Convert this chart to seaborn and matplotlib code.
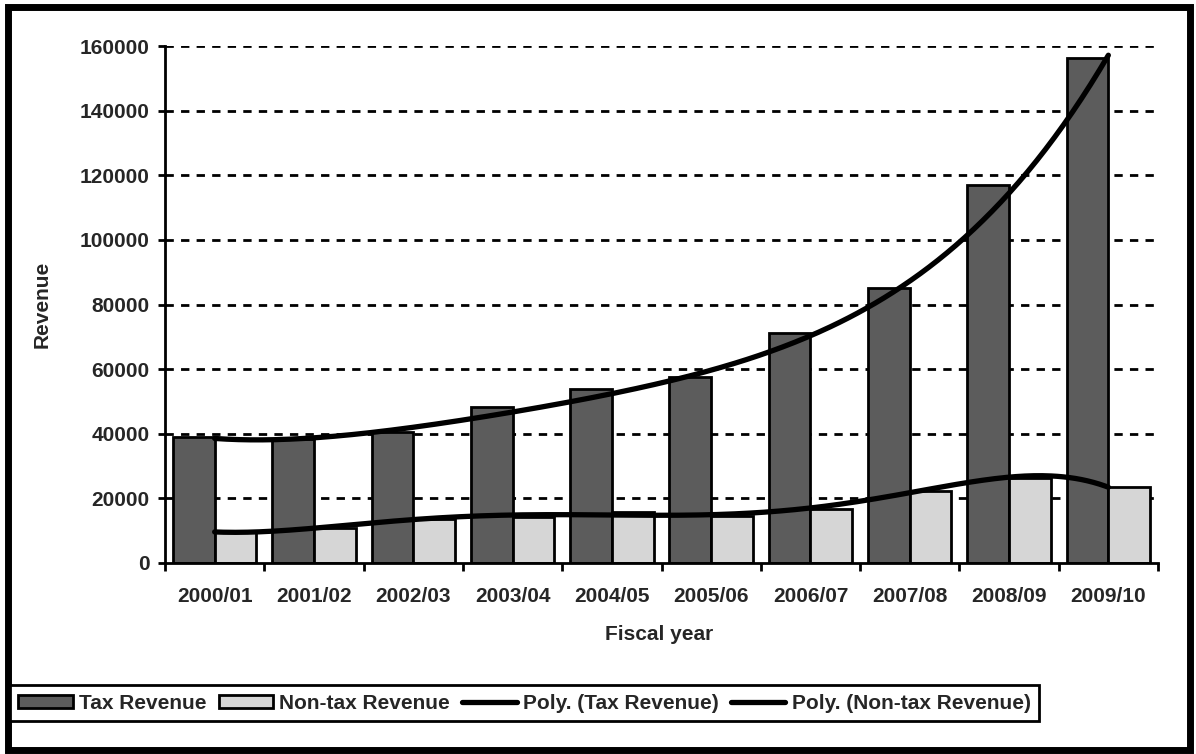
import numpy as np
import pandas as pd
import matplotlib.pyplot as plt
import seaborn as sns
from matplotlib.patches import Patch, Rectangle
from matplotlib.lines import Line2D

# data
years = ['2000/01', '2001/02', '2002/03', '2003/04', '2004/05',
         '2005/06', '2006/07', '2007/08', '2008/09', '2009/10']
tax_revenue = [38900, 38400, 40600, 48300, 53900, 57600, 71200, 85100, 117000, 156300]
nontax_revenue = [9600, 10800, 13600, 14200, 15800, 14500, 16700, 22300, 26300, 23500]

df = pd.DataFrame({
    'year': years * 2,
    'revenue': tax_revenue + nontax_revenue,
    'type': ['Tax Revenue'] * len(years) + ['Non-tax Revenue'] * len(years),
})

sns.set_style('white')
plt.rcParams['font.family'] = ['Liberation Sans', 'DejaVu Sans']
plt.rcParams['font.weight'] = 'bold'
plt.rcParams['axes.labelweight'] = 'bold'

colores = {'Tax Revenue': '#5c5c5c', 'Non-tax Revenue': '#d6d6d6'}

fig = plt.figure(figsize=(11.96, 7.54), dpi=100)
ax = fig.add_axes([165 / 1196, 1 - 563 / 754, (1158 - 165) / 1196, (563 - 46) / 754])

# gridlines (dashed, behind bars)
for v in range(20000, 160001, 20000):
    ax.axhline(v, color='black', lw=2, ls=(0, (3, 2.6)), zorder=0.5)

sns.barplot(data=df, x='year', y='revenue', hue='type', palette=colores,
            width=0.84, edgecolor='black', linewidth=2, saturation=1,
            errorbar=None, legend=False, ax=ax, zorder=1)

# polynomial trendlines (like Excel "Poly." trendline)
x = np.arange(len(years))
xs = np.linspace(0, len(years) - 1, 300)
coef_tax = np.polyfit(x, tax_revenue, 4)
coef_non = np.polyfit(x, nontax_revenue, 6)
sns.lineplot(x=xs, y=np.polyval(coef_tax, xs), color='black', lw=3.8, ax=ax, zorder=3)
sns.lineplot(x=xs, y=np.polyval(coef_non, xs), color='black', lw=3.8, ax=ax, zorder=3)

ax.set_xlim(-0.5, 9.5)
ax.set_ylim(0, 160000)
ax.set_yticks(range(0, 160001, 20000))
ax.set_xticks(x)
ax.set_xticklabels(years)
ax.set_xticks(np.arange(-0.5, 10, 1), minor=True)
ax.tick_params(axis='x', which='major', length=0, pad=17, labelsize=15)
ax.tick_params(axis='x', which='minor', length=6, width=2, direction='out', color='black')
ax.tick_params(axis='y', length=5, width=2, direction='out', color='black', pad=6, labelsize=15)
ax.xaxis.set_ticks_position('bottom')
ax.yaxis.set_ticks_position('left')

for lado in ['top', 'right']:
    ax.spines[lado].set_visible(False)
for lado in ['left', 'bottom']:
    ax.spines[lado].set_color('black')
    ax.spines[lado].set_linewidth(2)

ax.set_xlabel('Fiscal year', fontsize=15, fontweight='bold')
ax.set_ylabel('Revenue', fontsize=15, fontweight='bold')
ax.xaxis.set_label_coords(0.498, -0.12)
ax.yaxis.set_label_coords(-0.114, 0.5)

# legend box at the bottom
handles = [
    Patch(facecolor=colores['Tax Revenue'], edgecolor='black', lw=2),
    Patch(facecolor=colores['Non-tax Revenue'], edgecolor='black', lw=2),
    Line2D([], [], color='black', lw=3.8),
    Line2D([], [], color='black', lw=3.8),
]
etiquetas = ['Tax Revenue', 'Non-tax Revenue', 'Poly. (Tax Revenue)', 'Poly. (Non-tax Revenue)']
leg = fig.legend(handles, etiquetas, loc='lower left', bbox_to_anchor=(10 / 1196, 1 - 721 / 754),
                 ncol=4, fontsize=15, frameon=True, fancybox=False, framealpha=1,
                 borderaxespad=0, borderpad=0.4, handlelength=2.6, handleheight=0.6,
                 handletextpad=0.3, columnspacing=0.6, edgecolor='black')
leg.get_frame().set_linewidth(2)

# outer border
fig.add_artist(Rectangle((0.007, 0.005), 0.988, 0.986, transform=fig.transFigure,
                         fill=False, lw=5, edgecolor='black'))

fig.savefig('out.png', dpi=100)
